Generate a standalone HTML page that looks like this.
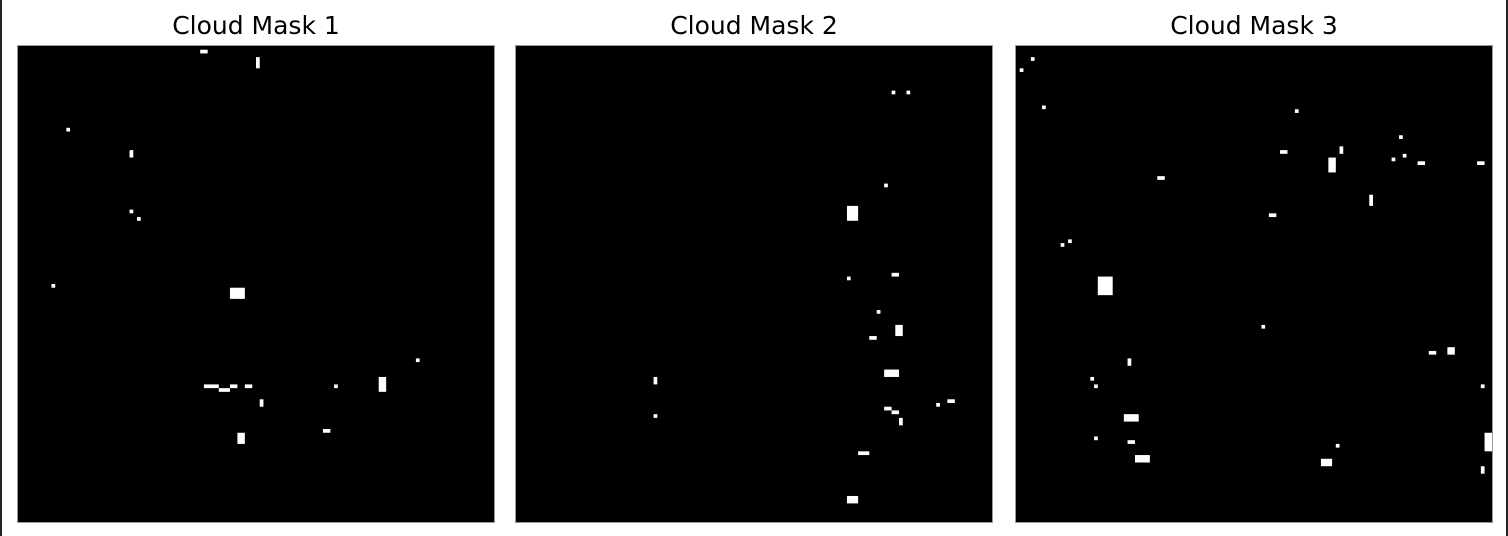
<!DOCTYPE html>
<html><head><meta charset="utf-8">
<style>
html,body{margin:0;padding:0;background:#fff;}
#wrap{position:relative;width:1508px;height:536px;overflow:hidden;}
svg{position:absolute;left:0;top:0;}
</style></head>
<body>
<div id="wrap">
<svg id="chart" width="1508" height="536">
  <rect x="0" y="0" width="2" height="536" fill="#222"/>
  <rect x="1506" y="0" width="2" height="536" fill="#222"/>
</svg>
</div>
<script>
// mask cells: [col, row, width, height] on a 128x128 grid
const titles = ["Cloud Mask 1", "Cloud Mask 2", "Cloud Mask 3"];
const mask1 = [[49,1,2,1],[64,3,1,3],[13,22,1,1],[30,28,1,2],[30,44,1,1],[32,46,1,1],[9,64,1,1],[57,65,4,3],[107,84,1,1],[50,91,4,1],[54,92,3,1],[57,91,2,1],[61,91,2,1],[65,95,1,2],[85,91,1,1],[97,89,2,4],[82,103,2,1],[59,104,2,3]];
const mask2 = [[101,12,1,1],[105,12,1,1],[99,37,1,1],[89,43,3,4],[89,62,1,1],[101,61,2,1],[97,71,1,1],[102,75,2,3],[95,78,2,1],[99,87,4,2],[37,89,1,2],[37,99,1,1],[99,97,2,1],[101,98,2,1],[103,100,1,2],[113,96,1,1],[116,95,2,1],[92,109,3,1],[89,121,3,2]];
const mask3 = [[4,3,1,1],[1,6,1,1],[7,16,1,1],[75,17,1,1],[71,28,2,1],[87,27,1,2],[84,30,2,4],[103,24,1,1],[101,30,1,1],[104,29,1,1],[108,31,2,1],[124,31,2,1],[38,35,2,1],[95,40,1,3],[68,45,2,1],[12,53,1,1],[14,52,1,1],[22,62,4,5],[66,75,1,1],[111,82,2,1],[116,81,2,2],[30,84,1,2],[20,89,1,1],[21,91,1,1],[125,91,1,1],[29,99,4,2],[21,105,1,1],[30,106,2,1],[32,110,4,2],[86,107,1,1],[82,111,3,2],[126,104,2,5],[125,113,1,2]];
const masks = [mask1, mask2, mask3];
const GRID = 128;

const svg = document.getElementById('chart');
const NS = 'http://www.w3.org/2000/svg';
const panelX = [18, 516, 1016], panelY = 46, panelSize = 476;
const cell = panelSize / GRID;
const sx = (i, c) => panelX[i] + c * cell;
const sy = r => panelY + r * cell;

masks.forEach((m, i) => {
  const g = document.createElementNS(NS, 'g');
  
  
  const t = document.createElementNS(NS, 'text');
  t.setAttribute('x', panelX[i] + panelSize / 2);
  t.setAttribute('y', 34);
  t.setAttribute('text-anchor', 'middle');
  t.setAttribute('font-family', 'DejaVu Sans, Liberation Sans, sans-serif');
  t.setAttribute('font-size', '25');
  t.setAttribute('fill', '#000');
  t.textContent = titles[i];
  
  
  g.appendChild(t);
  const bg = document.createElementNS(NS, 'rect');
  bg.setAttribute('x', panelX[i] - 0.5);
  bg.setAttribute('y', panelY - 0.5);
  bg.setAttribute('width', panelSize + 1);
  bg.setAttribute('height', panelSize + 1);
  bg.setAttribute('fill', '#000');
  bg.setAttribute('stroke', '#999');
  bg.setAttribute('stroke-width', '1');
  
  
  g.appendChild(bg);
  m.forEach(c => {
    const r = document.createElementNS(NS, 'rect');
    r.setAttribute('x', sx(i, c[0]));
    r.setAttribute('y', sy(c[1]));
    r.setAttribute('width', c[2] * cell);
    r.setAttribute('height', c[3] * cell);
    r.setAttribute('fill', '#fff');
    
    
    g.appendChild(r);
  });
  svg.appendChild(g);
});
</script>
</body></html>
